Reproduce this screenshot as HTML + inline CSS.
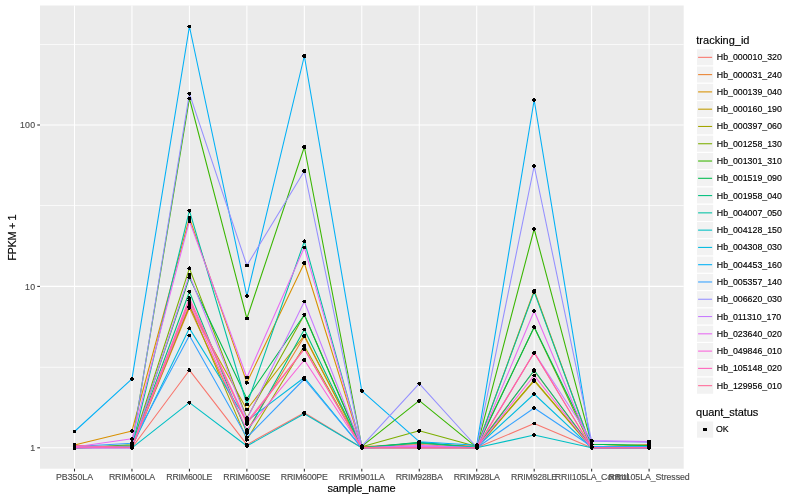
<!DOCTYPE html>
<html lang="en"><head><meta charset="utf-8"><title>expression plot</title>
<style>html,body{margin:0;padding:0;background:#fff}body{width:800px;height:500px;overflow:hidden}svg{display:block}text{font-family:"Liberation Sans",sans-serif}.t{font-size:8.8px;fill:#4D4D4D;stroke:#4D4D4D;stroke-width:.15px}.l{font-size:8.8px;fill:#000;stroke:#000;stroke-width:.15px}.h{font-size:11px;fill:#000;stroke:#000;stroke-width:.15px}</style></head><body>
<svg width="800" height="500" viewBox="0 0 800 500">
<rect width="800" height="500" fill="#fff"/>
<rect x="40" y="5.5" width="643.7" height="463.2" fill="#EBEBEB"/>
<g stroke="#fff" stroke-width="0.72">
<line x1="40" x2="683.7" y1="367.3" y2="367.3"/>
<line x1="40" x2="683.7" y1="205.55" y2="205.55"/>
<line x1="40" x2="683.7" y1="44.45" y2="44.45"/>
</g>
<g stroke="#fff" stroke-width="1.07">
<line x1="40" x2="683.7" y1="447.8" y2="447.8"/>
<line x1="40" x2="683.7" y1="286.4" y2="286.4"/>
<line x1="40" x2="683.7" y1="125" y2="125"/>
<line x1="74.5" x2="74.5" y1="5.5" y2="468.7"/>
<line x1="131.96" x2="131.96" y1="5.5" y2="468.7"/>
<line x1="189.42" x2="189.42" y1="5.5" y2="468.7"/>
<line x1="246.88" x2="246.88" y1="5.5" y2="468.7"/>
<line x1="304.34" x2="304.34" y1="5.5" y2="468.7"/>
<line x1="361.8" x2="361.8" y1="5.5" y2="468.7"/>
<line x1="419.26" x2="419.26" y1="5.5" y2="468.7"/>
<line x1="476.72" x2="476.72" y1="5.5" y2="468.7"/>
<line x1="534.18" x2="534.18" y1="5.5" y2="468.7"/>
<line x1="591.64" x2="591.64" y1="5.5" y2="468.7"/>
<line x1="649.1" x2="649.1" y1="5.5" y2="468.7"/>
</g>
<g fill="none" stroke-width="1.07" stroke-linejoin="round" stroke-linecap="butt">
<polyline stroke="#F8766D" points="74.5,445.2 131.96,447.8 189.42,370.2 246.88,444.6 304.34,412.8 361.8,447.8 419.26,444.5 476.72,447.8 534.18,423.5 591.64,447.8 649.1,447.8"/>
<polyline stroke="#EA8331" points="74.5,447.8 131.96,447.5 189.42,307.8 246.88,431 304.34,336.5 361.8,446.9 419.26,443.4 476.72,446.3 534.18,370.8 591.64,447 649.1,444.5"/>
<polyline stroke="#D89000" points="74.5,445 131.96,431 189.42,218 246.88,382.6 304.34,263 361.8,447.8 419.26,447 476.72,447.8 534.18,290.5 591.64,447.8 649.1,447.8"/>
<polyline stroke="#C09B00" points="74.5,447.8 131.96,447 189.42,306.3 246.88,409.5 304.34,335.5 361.8,447.8 419.26,447.8 476.72,447.8 534.18,380.8 591.64,447.8 649.1,447.8"/>
<polyline stroke="#A3A500" points="74.5,447.8 131.96,446.2 189.42,305 246.88,439.6 304.34,346 361.8,447.8 419.26,447.8 476.72,447.8 534.18,380 591.64,447.8 649.1,447.8"/>
<polyline stroke="#7CAE00" points="74.5,447.8 131.96,445.5 189.42,268.35 246.88,418 304.34,314.75 361.8,446.8 419.26,430.8 476.72,446.5 534.18,327.3 591.64,447.8 649.1,447.8"/>
<polyline stroke="#39B600" points="74.5,447.8 131.96,444.8 189.42,98.5 246.88,318.5 304.34,147 361.8,446.3 419.26,400.7 476.72,447.3 534.18,229 591.64,444.3 649.1,445.5"/>
<polyline stroke="#00BB4E" points="74.5,447.8 131.96,447 189.42,277.5 246.88,398.75 304.34,314.75 361.8,447.8 419.26,442.3 476.72,447.5 534.18,327 591.64,444.3 649.1,445.5"/>
<polyline stroke="#00BF7D" points="74.5,447.8 131.96,447 189.42,291.7 246.88,432.9 304.34,329.5 361.8,447.8 419.26,442.9 476.72,447.5 534.18,370.3 591.64,447.8 649.1,447.8"/>
<polyline stroke="#00C1A3" points="74.5,447.8 131.96,447 189.42,210.7 246.88,404.5 304.34,241.35 361.8,447.8 419.26,447 476.72,447.8 534.18,291.7 591.64,447.8 649.1,447.8"/>
<polyline stroke="#00BFC4" points="74.5,447.8 131.96,447.8 189.42,402.6 246.88,446 304.34,413.8 361.8,447.8 419.26,447.8 476.72,447.8 534.18,435 591.64,447.8 649.1,447.8"/>
<polyline stroke="#00BAE0" points="74.5,447.8 131.96,446.5 189.42,328.35 246.88,421 304.34,377.5 361.8,447.8 419.26,446.8 476.72,447 534.18,394 591.64,447.8 649.1,447.8"/>
<polyline stroke="#00B0F6" points="74.5,431.5 131.96,378.8 189.42,26.5 246.88,296 304.34,56 361.8,390.8 419.26,441.7 476.72,445.2 534.18,100 591.64,447.8 649.1,447.8"/>
<polyline stroke="#35A2FF" points="74.5,446.5 131.96,443.2 189.42,335.5 246.88,437.4 304.34,379 361.8,447.8 419.26,447 476.72,447.8 534.18,408 591.64,446.5 649.1,446.6"/>
<polyline stroke="#9590FF" points="74.5,446.7 131.96,446 189.42,93.6 246.88,265.5 304.34,171 361.8,446.2 419.26,383.6 476.72,447 534.18,166 591.64,441.1 649.1,442.3"/>
<polyline stroke="#C77CFF" points="74.5,448 131.96,448 189.42,275 246.88,419.4 304.34,301.5 361.8,447.8 419.26,445.6 476.72,447.8 534.18,352.5 591.64,440.5 649.1,441.6"/>
<polyline stroke="#E76BF3" points="74.5,447 131.96,438.8 189.42,221 246.88,377.5 304.34,247.5 361.8,447.8 419.26,446.3 476.72,447.8 534.18,311 591.64,447.8 649.1,447.8"/>
<polyline stroke="#FA62DB" points="74.5,447.5 131.96,447.8 189.42,303 246.88,430 304.34,360 361.8,447.8 419.26,447.8 476.72,447.8 534.18,375.5 591.64,447.8 649.1,447.8"/>
<polyline stroke="#FF62BC" points="74.5,447.8 131.96,447.5 189.42,298.2 246.88,422 304.34,348.8 361.8,447.8 419.26,447.8 476.72,447.8 534.18,352.5 591.64,447.8 649.1,447.8"/>
<polyline stroke="#FF6A98" points="74.5,445.8 131.96,447.2 189.42,300.6 246.88,423.7 304.34,349 361.8,447.8 419.26,447.8 476.72,447.8 534.18,352.7 591.64,447.8 649.1,447.8"/>
</g>
<path fill="#000" shape-rendering="crispEdges" d="M188 25h3v1h-3zM187 26h4v1h-4zM188 27h3v1h-3zM303 54h3v1h-3zM302 55h4v1h-4zM302 56h4v1h-4zM303 57h3v1h-3zM188 92h3v1h-3zM187 93h4v1h-4zM188 94h3v1h-3zM189 95h1v1h-1zM188 97h3v1h-3zM187 98h4v1h-4zM533 98h2v1h-2zM188 99h3v1h-3zM532 99h4v1h-4zM532 100h4v1h-4zM533 101h2v1h-2zM303 145h3v1h-3zM302 146h4v1h-4zM302 147h4v1h-4zM303 148h3v1h-3zM533 164h2v1h-2zM532 165h4v1h-4zM532 166h4v1h-4zM533 167h2v1h-2zM303 169h3v1h-3zM302 170h4v1h-4zM302 171h4v1h-4zM303 172h3v1h-3zM188 209h3v1h-3zM187 210h4v1h-4zM188 211h3v1h-3zM189 212h1v1h-1zM188 216h3v1h-3zM188 217h3v1h-3zM188 218h3v1h-3zM188 219h3v1h-3zM188 220h3v1h-3zM188 221h3v1h-3zM188 222h3v1h-3zM533 227h2v1h-2zM532 228h4v1h-4zM532 229h4v1h-4zM533 230h2v1h-2zM304 239h1v1h-1zM303 240h3v1h-3zM302 241h4v1h-4zM303 242h3v1h-3zM303 246h3v1h-3zM302 247h4v1h-4zM303 248h3v1h-3zM303 261h3v1h-3zM302 262h4v1h-4zM302 263h4v1h-4zM245 264h4v1h-4zM303 264h3v1h-3zM245 265h4v1h-4zM189 266h1v1h-1zM245 266h4v1h-4zM188 267h3v1h-3zM187 268h4v1h-4zM188 269h3v1h-3zM188 273h3v1h-3zM188 274h3v1h-3zM188 275h3v1h-3zM188 276h3v1h-3zM187 277h4v1h-4zM188 278h3v1h-3zM533 289h3v1h-3zM188 290h3v1h-3zM532 290h4v1h-4zM187 291h4v1h-4zM532 291h4v1h-4zM188 292h3v1h-3zM532 292h4v1h-4zM189 293h1v1h-1zM533 293h2v1h-2zM246 294h2v1h-2zM245 295h4v1h-4zM188 296h2v1h-2zM245 296h4v1h-4zM188 297h3v1h-3zM246 297h2v1h-2zM187 298h4v1h-4zM188 299h3v1h-3zM187 300h4v1h-4zM303 300h3v1h-3zM188 301h3v1h-3zM302 301h4v1h-4zM188 302h3v1h-3zM303 302h3v1h-3zM188 303h3v1h-3zM188 304h3v1h-3zM188 305h3v1h-3zM187 306h4v1h-4zM187 307h4v1h-4zM188 308h3v1h-3zM188 309h2v1h-2zM533 309h2v1h-2zM532 310h4v1h-4zM532 311h4v1h-4zM533 312h2v1h-2zM303 313h3v1h-3zM302 314h4v1h-4zM303 315h3v1h-3zM303 316h2v1h-2zM245 317h4v1h-4zM245 318h4v1h-4zM245 319h4v1h-4zM533 325h2v1h-2zM189 326h1v1h-1zM532 326h4v1h-4zM188 327h3v1h-3zM532 327h4v1h-4zM187 328h4v1h-4zM303 328h3v1h-3zM533 328h3v1h-3zM188 329h3v1h-3zM302 329h4v1h-4zM303 330h3v1h-3zM188 334h3v1h-3zM303 334h3v1h-3zM187 335h4v1h-4zM302 335h4v1h-4zM188 336h3v1h-3zM302 336h4v1h-4zM303 337h3v1h-3zM303 344h3v1h-3zM302 345h4v1h-4zM302 346h4v1h-4zM303 347h3v1h-3zM302 348h4v1h-4zM302 349h4v1h-4zM303 350h3v1h-3zM533 351h3v1h-3zM532 352h4v1h-4zM532 353h4v1h-4zM533 354h2v1h-2zM303 358h3v1h-3zM302 359h4v1h-4zM302 360h4v1h-4zM303 361h3v1h-3zM188 368h2v1h-2zM533 368h2v1h-2zM188 369h3v1h-3zM532 369h4v1h-4zM187 370h4v1h-4zM532 370h4v1h-4zM188 371h3v1h-3zM532 371h4v1h-4zM533 372h2v1h-2zM533 374h3v1h-3zM532 375h4v1h-4zM245 376h4v1h-4zM303 376h3v1h-3zM533 376h3v1h-3zM131 377h2v1h-2zM245 377h4v1h-4zM302 377h4v1h-4zM130 378h4v1h-4zM245 378h4v1h-4zM302 378h4v1h-4zM533 378h2v1h-2zM130 379h4v1h-4zM302 379h4v1h-4zM532 379h4v1h-4zM131 380h2v1h-2zM303 380h3v1h-3zM532 380h4v1h-4zM245 381h3v1h-3zM532 381h4v1h-4zM245 382h4v1h-4zM418 382h3v1h-3zM533 382h2v1h-2zM245 383h4v1h-4zM417 383h4v1h-4zM246 384h1v1h-1zM418 384h3v1h-3zM419 385h1v1h-1zM360 389h3v1h-3zM360 390h4v1h-4zM360 391h4v1h-4zM361 392h2v1h-2zM533 392h2v1h-2zM532 393h4v1h-4zM532 394h4v1h-4zM533 395h2v1h-2zM245 397h3v1h-3zM245 398h4v1h-4zM245 399h4v1h-4zM418 399h3v1h-3zM246 400h2v1h-2zM417 400h4v1h-4zM188 401h3v1h-3zM417 401h4v1h-4zM187 402h4v1h-4zM418 402h2v1h-2zM188 403h3v1h-3zM245 403h4v1h-4zM189 404h1v1h-1zM245 404h4v1h-4zM245 405h4v1h-4zM533 406h2v1h-2zM532 407h4v1h-4zM245 408h4v1h-4zM532 408h4v1h-4zM245 409h4v1h-4zM533 409h2v1h-2zM245 410h4v1h-4zM303 411h3v1h-3zM302 412h4v1h-4zM302 413h4v1h-4zM303 414h3v1h-3zM303 415h2v1h-2zM246 416h2v1h-2zM245 417h4v1h-4zM245 418h4v1h-4zM245 419h4v1h-4zM245 420h4v1h-4zM245 421h4v1h-4zM245 422h4v1h-4zM533 422h3v1h-3zM245 423h4v1h-4zM532 423h4v1h-4zM245 424h4v1h-4zM533 424h3v1h-3zM246 425h2v1h-2zM246 428h2v1h-2zM131 429h2v1h-2zM245 429h4v1h-4zM418 429h3v1h-3zM73 430h3v1h-3zM130 430h4v1h-4zM245 430h4v1h-4zM417 430h4v1h-4zM73 431h3v1h-3zM130 431h4v1h-4zM245 431h4v1h-4zM417 431h4v1h-4zM73 432h3v1h-3zM131 432h2v1h-2zM245 432h4v1h-4zM418 432h2v1h-2zM245 433h4v1h-4zM533 433h2v1h-2zM246 434h2v1h-2zM532 434h4v1h-4zM246 435h1v1h-1zM532 435h4v1h-4zM245 436h4v1h-4zM533 436h2v1h-2zM131 437h2v1h-2zM245 437h4v1h-4zM130 438h4v1h-4zM245 438h3v1h-3zM130 439h4v1h-4zM245 439h4v1h-4zM590 439h3v1h-3zM131 440h2v1h-2zM245 440h4v1h-4zM418 440h3v1h-3zM590 440h4v1h-4zM647 440h4v1h-4zM131 441h2v1h-2zM246 441h1v1h-1zM417 441h4v1h-4zM590 441h4v1h-4zM647 441h4v1h-4zM130 442h4v1h-4zM417 442h4v1h-4zM590 442h3v1h-3zM647 442h4v1h-4zM73 443h3v1h-3zM130 443h4v1h-4zM245 443h3v1h-3zM417 443h4v1h-4zM476 443h2v1h-2zM590 443h3v1h-3zM647 443h4v1h-4zM73 444h3v1h-3zM130 444h4v1h-4zM245 444h4v1h-4zM361 444h2v1h-2zM417 444h4v1h-4zM475 444h4v1h-4zM590 444h4v1h-4zM647 444h4v1h-4zM73 445h3v1h-3zM130 445h4v1h-4zM245 445h4v1h-4zM360 445h4v1h-4zM417 445h4v1h-4zM475 445h4v1h-4zM590 445h3v1h-3zM647 445h4v1h-4zM73 446h3v1h-3zM130 446h4v1h-4zM245 446h4v1h-4zM360 446h4v1h-4zM417 446h4v1h-4zM475 446h4v1h-4zM590 446h4v1h-4zM647 446h4v1h-4zM73 447h3v1h-3zM130 447h4v1h-4zM246 447h2v1h-2zM360 447h4v1h-4zM417 447h4v1h-4zM475 447h4v1h-4zM590 447h4v1h-4zM647 447h4v1h-4zM73 448h3v1h-3zM130 448h4v1h-4zM360 448h4v1h-4zM417 448h4v1h-4zM475 448h4v1h-4zM590 448h3v1h-3zM647 448h4v1h-4zM73 449h3v1h-3zM131 449h2v1h-2zM361 449h2v1h-2zM418 449h2v1h-2zM476 449h2v1h-2zM591 449h2v1h-2zM648 449h2v1h-2z"/>
<g stroke="#333" stroke-width="1.07">
<line x1="37.25" x2="40" y1="447.8" y2="447.8"/>
<line x1="37.25" x2="40" y1="286.4" y2="286.4"/>
<line x1="37.25" x2="40" y1="125" y2="125"/>
<line x1="74.5" x2="74.5" y1="468.7" y2="471.45"/>
<line x1="131.96" x2="131.96" y1="468.7" y2="471.45"/>
<line x1="189.42" x2="189.42" y1="468.7" y2="471.45"/>
<line x1="246.88" x2="246.88" y1="468.7" y2="471.45"/>
<line x1="304.34" x2="304.34" y1="468.7" y2="471.45"/>
<line x1="361.8" x2="361.8" y1="468.7" y2="471.45"/>
<line x1="419.26" x2="419.26" y1="468.7" y2="471.45"/>
<line x1="476.72" x2="476.72" y1="468.7" y2="471.45"/>
<line x1="534.18" x2="534.18" y1="468.7" y2="471.45"/>
<line x1="591.64" x2="591.64" y1="468.7" y2="471.45"/>
<line x1="649.1" x2="649.1" y1="468.7" y2="471.45"/>
</g>
<text class="t" x="35.5" y="450.95" text-anchor="end" letter-spacing="0.3">1</text>
<text class="t" x="35.5" y="289.55" text-anchor="end" letter-spacing="0.3">10</text>
<text class="t" x="35.5" y="128.15" text-anchor="end" letter-spacing="0.3">100</text>
<text class="t" x="74.5" y="480.1" text-anchor="middle" letter-spacing="-0.000">PB350LA</text>
<text class="t" x="131.85" y="480.1" text-anchor="middle" letter-spacing="-0.225">RRIM600LA</text>
<text class="t" x="189.31" y="480.1" text-anchor="middle" letter-spacing="-0.225">RRIM600LE</text>
<text class="t" x="246.77" y="480.1" text-anchor="middle" letter-spacing="-0.225">RRIM600SE</text>
<text class="t" x="304.23" y="480.1" text-anchor="middle" letter-spacing="-0.225">RRIM600PE</text>
<text class="t" x="361.69" y="480.1" text-anchor="middle" letter-spacing="-0.225">RRIM901LA</text>
<text class="t" x="419.15" y="480.1" text-anchor="middle" letter-spacing="-0.225">RRIM928BA</text>
<text class="t" x="476.61" y="480.1" text-anchor="middle" letter-spacing="-0.225">RRIM928LA</text>
<text class="t" x="534.07" y="480.1" text-anchor="middle" letter-spacing="-0.225">RRIM928LE</text>
<text class="t" x="591.56" y="480.1" text-anchor="middle" letter-spacing="-0.156">RRII105LA_Control</text>
<text class="t" x="649.06" y="480.1" text-anchor="middle" letter-spacing="-0.088">RRII105LA_Stressed</text>
<text class="h" x="361.45" y="491.9" text-anchor="middle" letter-spacing="-0.09">sample_name</text>
<text class="h" transform="translate(16.2 237.7) rotate(-90)" text-anchor="middle" letter-spacing="-0.39">FPKM + 1</text>
<text class="h" x="696.3" y="43.6">tracking_id</text>
<rect x="696.45" y="48.7" width="17.28" height="17.28" fill="#F2F2F2" stroke="#fff" stroke-width="1.07"/>
<line x1="698.1" x2="712.1" y1="57.34" y2="57.34" stroke="#F8766D" stroke-width="1.07"/>
<text class="l" x="716.8" y="60">Hb_000010_320</text>
<rect x="696.45" y="65.98" width="17.28" height="17.28" fill="#F2F2F2" stroke="#fff" stroke-width="1.07"/>
<line x1="698.1" x2="712.1" y1="74.62" y2="74.62" stroke="#EA8331" stroke-width="1.07"/>
<text class="l" x="716.8" y="78">Hb_000031_240</text>
<rect x="696.45" y="83.26" width="17.28" height="17.28" fill="#F2F2F2" stroke="#fff" stroke-width="1.07"/>
<line x1="698.1" x2="712.1" y1="91.9" y2="91.9" stroke="#D89000" stroke-width="1.07"/>
<text class="l" x="716.8" y="95">Hb_000139_040</text>
<rect x="696.45" y="100.54" width="17.28" height="17.28" fill="#F2F2F2" stroke="#fff" stroke-width="1.07"/>
<line x1="698.1" x2="712.1" y1="109.18" y2="109.18" stroke="#C09B00" stroke-width="1.07"/>
<text class="l" x="716.8" y="112">Hb_000160_190</text>
<rect x="696.45" y="117.82" width="17.28" height="17.28" fill="#F2F2F2" stroke="#fff" stroke-width="1.07"/>
<line x1="698.1" x2="712.1" y1="126.46" y2="126.46" stroke="#A3A500" stroke-width="1.07"/>
<text class="l" x="716.8" y="129">Hb_000397_060</text>
<rect x="696.45" y="135.1" width="17.28" height="17.28" fill="#F2F2F2" stroke="#fff" stroke-width="1.07"/>
<line x1="698.1" x2="712.1" y1="143.74" y2="143.74" stroke="#7CAE00" stroke-width="1.07"/>
<text class="l" x="716.8" y="147">Hb_001258_130</text>
<rect x="696.45" y="152.38" width="17.28" height="17.28" fill="#F2F2F2" stroke="#fff" stroke-width="1.07"/>
<line x1="698.1" x2="712.1" y1="161.02" y2="161.02" stroke="#39B600" stroke-width="1.07"/>
<text class="l" x="716.8" y="164">Hb_001301_310</text>
<rect x="696.45" y="169.66" width="17.28" height="17.28" fill="#F2F2F2" stroke="#fff" stroke-width="1.07"/>
<line x1="698.1" x2="712.1" y1="178.3" y2="178.3" stroke="#00BB4E" stroke-width="1.07"/>
<text class="l" x="716.8" y="181">Hb_001519_090</text>
<rect x="696.45" y="186.94" width="17.28" height="17.28" fill="#F2F2F2" stroke="#fff" stroke-width="1.07"/>
<line x1="698.1" x2="712.1" y1="195.58" y2="195.58" stroke="#00BF7D" stroke-width="1.07"/>
<text class="l" x="716.8" y="199">Hb_001958_040</text>
<rect x="696.45" y="204.22" width="17.28" height="17.28" fill="#F2F2F2" stroke="#fff" stroke-width="1.07"/>
<line x1="698.1" x2="712.1" y1="212.86" y2="212.86" stroke="#00C1A3" stroke-width="1.07"/>
<text class="l" x="716.8" y="216">Hb_004007_050</text>
<rect x="696.45" y="221.5" width="17.28" height="17.28" fill="#F2F2F2" stroke="#fff" stroke-width="1.07"/>
<line x1="698.1" x2="712.1" y1="230.14" y2="230.14" stroke="#00BFC4" stroke-width="1.07"/>
<text class="l" x="716.8" y="233">Hb_004128_150</text>
<rect x="696.45" y="238.78" width="17.28" height="17.28" fill="#F2F2F2" stroke="#fff" stroke-width="1.07"/>
<line x1="698.1" x2="712.1" y1="247.42" y2="247.42" stroke="#00BAE0" stroke-width="1.07"/>
<text class="l" x="716.8" y="250">Hb_004308_030</text>
<rect x="696.45" y="256.06" width="17.28" height="17.28" fill="#F2F2F2" stroke="#fff" stroke-width="1.07"/>
<line x1="698.1" x2="712.1" y1="264.7" y2="264.7" stroke="#00B0F6" stroke-width="1.07"/>
<text class="l" x="716.8" y="268">Hb_004453_160</text>
<rect x="696.45" y="273.34" width="17.28" height="17.28" fill="#F2F2F2" stroke="#fff" stroke-width="1.07"/>
<line x1="698.1" x2="712.1" y1="281.98" y2="281.98" stroke="#35A2FF" stroke-width="1.07"/>
<text class="l" x="716.8" y="285">Hb_005357_140</text>
<rect x="696.45" y="290.62" width="17.28" height="17.28" fill="#F2F2F2" stroke="#fff" stroke-width="1.07"/>
<line x1="698.1" x2="712.1" y1="299.26" y2="299.26" stroke="#9590FF" stroke-width="1.07"/>
<text class="l" x="716.8" y="302">Hb_006620_030</text>
<rect x="696.45" y="307.9" width="17.28" height="17.28" fill="#F2F2F2" stroke="#fff" stroke-width="1.07"/>
<line x1="698.1" x2="712.1" y1="316.54" y2="316.54" stroke="#C77CFF" stroke-width="1.07"/>
<text class="l" x="716.8" y="320">Hb_011310_170</text>
<rect x="696.45" y="325.18" width="17.28" height="17.28" fill="#F2F2F2" stroke="#fff" stroke-width="1.07"/>
<line x1="698.1" x2="712.1" y1="333.82" y2="333.82" stroke="#E76BF3" stroke-width="1.07"/>
<text class="l" x="716.8" y="337">Hb_023640_020</text>
<rect x="696.45" y="342.46" width="17.28" height="17.28" fill="#F2F2F2" stroke="#fff" stroke-width="1.07"/>
<line x1="698.1" x2="712.1" y1="351.1" y2="351.1" stroke="#FA62DB" stroke-width="1.07"/>
<text class="l" x="716.8" y="354">Hb_049846_010</text>
<rect x="696.45" y="359.74" width="17.28" height="17.28" fill="#F2F2F2" stroke="#fff" stroke-width="1.07"/>
<line x1="698.1" x2="712.1" y1="368.38" y2="368.38" stroke="#FF62BC" stroke-width="1.07"/>
<text class="l" x="716.8" y="371">Hb_105148_020</text>
<rect x="696.45" y="377.02" width="17.28" height="17.28" fill="#F2F2F2" stroke="#fff" stroke-width="1.07"/>
<line x1="698.1" x2="712.1" y1="385.66" y2="385.66" stroke="#FF6A98" stroke-width="1.07"/>
<text class="l" x="716.8" y="389">Hb_129956_010</text>
<text class="h" x="696.1" y="416" letter-spacing="-0.08">quant_status</text>
<rect x="696.45" y="420.95" width="17.28" height="17.28" fill="#F2F2F2" stroke="#fff" stroke-width="1.07"/>
<path fill="#000" shape-rendering="crispEdges" d="M703 428h4v1h-4zM703 429h4v1h-4zM703 430h4v1h-4z"/>
<text class="l" x="716" y="432">OK</text>
</svg></body></html>
